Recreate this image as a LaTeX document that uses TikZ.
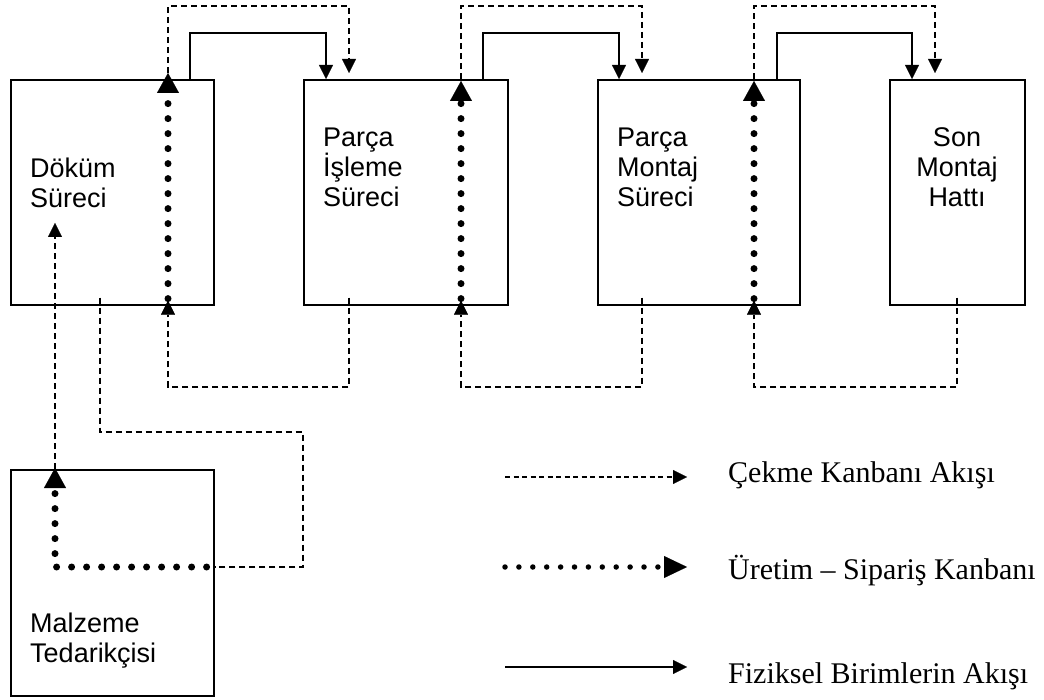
\documentclass[tikz,border=0pt]{standalone}
\usepackage{fontspec}
\setmainfont{Liberation Serif}
\newfontfamily\stagefont{Liberation Sans}
\usetikzlibrary{arrows.meta,calc}

\tikzset{
  stage/.style={draw, line width=1.6pt, inner sep=0pt, minimum height=225pt, anchor=north west},
  stagetext/.style={font=\stagefont\fontsize{27}{30}\selectfont, align=left, inner sep=0pt, anchor=base west},
  legendtext/.style={font=\fontsize{30}{34}\selectfont, inner sep=0pt, anchor=base west},
  pullline/.style={line width=1.3pt, dash pattern=on 6pt off 4pt},
  pull/.style={pullline, -{Triangle[length=14pt,width=14pt,line width=0.1pt]}},
  flow/.style={line width=1.4pt, -{Triangle[length=14pt,width=14pt,line width=0.1pt]}},
  prod/.style={line width=7pt, line cap=round, dash pattern=on 0pt off 15pt,
               -{Triangle[length=20pt,width=22pt,line width=0.1pt]}},
}

\begin{document}
\begin{tikzpicture}[x=1pt,y=-1pt]
\useasboundingbox (0,0) rectangle (1044,700);

% process stages
\node[stage, minimum width=203pt] (b1) at (10,79) {};
\node[stage, minimum width=204pt] (b2) at (303,79) {};
\node[stage, minimum width=202pt] (b3) at (597,79) {};
\node[stage, minimum width=135pt] (b4) at (889,79) {};
\node[stage, minimum width=203pt, minimum height=226pt] (sup) at (10,469) {};

% stage names (anchored at the baseline of the last line)
\node[stagetext] (t1) at (30,208) {Döküm\\Süreci};
\node[stagetext] (t2) at (323,207) {Parça\\İşleme\\Süreci};
\node[stagetext] (t3) at (617,207) {Parça\\Montaj\\Süreci};
\node[stagetext, align=center, anchor=base] (t4) at (957,207) {Son\\Montaj\\Hattı};
\node[stagetext] (t5) at (30,662) {Malzeme\\Tedarikçisi};

% routing columns and levels
\coordinate (c1p) at (168,0);  \coordinate (c1s) at (190,0);
\coordinate (a2s) at (326,0);  \coordinate (a2p) at (349,0);
\coordinate (c2p) at (461,0);  \coordinate (c2s) at (483,0);
\coordinate (a3s) at (619,0);  \coordinate (a3p) at (642,0);
\coordinate (c3p) at (754,0);  \coordinate (c3s) at (777,0);
\coordinate (a4s) at (912,0);  \coordinate (a4p) at (935,0);
\coordinate (a4b) at (957,0);
\coordinate (k0) at (100,0);   \coordinate (k3) at (303,0);
\coordinate (k4) at (55,0);
\coordinate (lvP) at (0,6);    \coordinate (lvS) at (0,33);
\coordinate (lvB) at (0,387);  \coordinate (lvC) at (0,432);
\coordinate (lvD) at (0,567);
\coordinate (pullend) at (55,223);

% production kanbans through each stage
\draw[prod] ($(b1.south -| c1p)+(0,-7)$) -- ($(b1.north -| c1p)+(0,-6)$);
\draw[prod] ($(b2.south -| c2p)+(0,-7)$) -- ($(b2.north -| c2p)+(0,2)$);
\draw[prod] ($(b3.south -| c3p)+(0,-7)$) -- ($(b3.north -| c3p)+(0,2)$);

% physical flow between stages
\draw[flow] (b1.north -| c1s) |- (lvS -| a2s) -- (b2.north -| a2s);
\draw[flow] (b2.north -| c2s) |- (lvS -| a3s) -- (b3.north -| a3s);
\draw[flow] (b3.north -| c3s) |- (lvS -| a4s) -- (b4.north -| a4s);

% pull kanbans over the top
\draw[pull] ($(b1.north -| c1p)+(0,-6)$) |- (lvP -| a2p) -- ($(b2.north -| a2p)+(0,-6)$);
\draw[pull] (b2.north -| c2p) |- (lvP -| a3p) -- ($(b3.north -| a3p)+(0,-6)$);
\draw[pull] (b3.north -| c3p) |- (lvP -| a4p) -- ($(b4.north -| a4p)+(0,-6)$);

% pull kanbans returning underneath
\draw[pull] ($(b2.south -| a2p)+(0,-8)$) |- (lvB -| c1p) -- ($(b1.south -| c1p)+(0,-5)$);
\draw[pull] ($(b3.south -| a3p)+(0,-8)$) |- (lvB -| c2p) -- ($(b2.south -| c2p)+(0,-5)$);
\draw[pull] ($(b4.south -| a4b)+(0,-8)$) |- (lvB -| c3p) -- ($(b3.south -| c3p)+(0,-5)$);

% supplier loop
\draw[pullline] ($(b1.south -| k0)+(0,-8)$) |- (lvC -| k3) |- (sup.east |- lvD);
\draw[prod] ($(sup.east |- lvD)+(-8,0)$) -| ($(sup.north -| k4)+(0,-1)$);
\draw[pull] (sup.north -| k4) -- (pullend);

% legend
\coordinate (lg1a) at (505,477); \coordinate (lg1b) at (687,477);
\coordinate (lg2a) at (505,567); \coordinate (lg2b) at (687,567);
\coordinate (lg3a) at (505,667); \coordinate (lg3b) at (687,667);
\draw[pull, dash pattern=on 5pt off 3.5pt] (lg1a) -- (lg1b);
\draw[prod, line width=5.5pt, dash pattern=on 0pt off 13.9pt,
      -{Triangle[length=23pt,width=22pt,line width=0.1pt]}] (lg2a) -- (lg2b);
\draw[flow] (lg3a) -- (lg3b);
\node[legendtext] (lt1) at (728,482) {Çekme Kanbanı Akışı};
\node[legendtext] (lt2) at (728,579) {Üretim – Sipariş Kanbanı};
\node[legendtext] (lt3) at (728,683) {Fiziksel Birimlerin Akışı};
\end{tikzpicture}
\end{document}
